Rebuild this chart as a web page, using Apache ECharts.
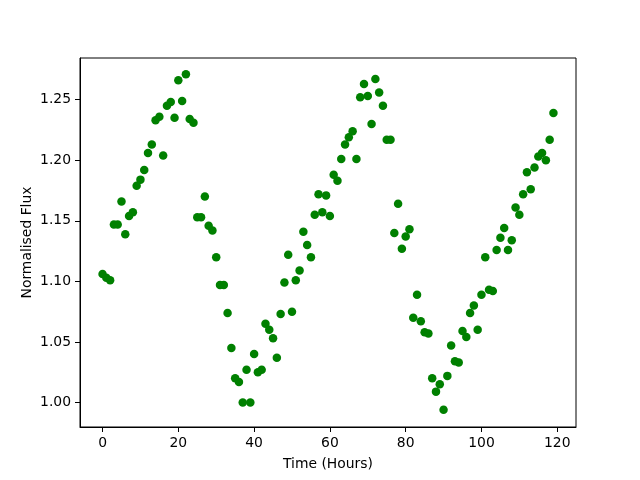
<!DOCTYPE html>
<html>
<head>
<meta charset="utf-8">
<script src="https://cdn.jsdelivr.net/npm/echarts@6/dist/echarts.min.js"></script>
<style>
  html, body { margin: 0; padding: 0; background: #fff; }
  #chart { width: 640px; height: 480px; }
</style>
</head>
<body>
<div id="chart"></div>
<script>
// hours 0..119
var hours = [];
for (var i = 0; i < 120; i++) hours.push(i);

var flux = [
  1.106, 1.103, 1.101, 1.147, 1.147, 1.166, 1.139, 1.154, 1.157, 1.179,
  1.184, 1.192, 1.206, 1.213, 1.233, 1.236, 1.204, 1.245, 1.248, 1.235,
  1.266, 1.249, 1.271, 1.234, 1.231, 1.153, 1.153, 1.170, 1.146, 1.142,
  1.120, 1.097, 1.097, 1.074, 1.045, 1.020, 1.017, 1.000, 1.027, 1.000,
  1.040, 1.025, 1.027, 1.065, 1.060, 1.053, 1.037, 1.073, 1.099, 1.122,
  1.075, 1.101, 1.109, 1.141, 1.130, 1.120, 1.155, 1.172, 1.157, 1.171,
  1.154, 1.188, 1.183, 1.201, 1.213, 1.219, 1.224, 1.201, 1.252, 1.263,
  1.253, 1.230, 1.267, 1.256, 1.245, 1.217, 1.217, 1.140, 1.164, 1.127,
  1.137, 1.143, 1.070, 1.089, 1.067, 1.058, 1.057, 1.020, 1.009, 1.015,
  0.994, 1.022, 1.047, 1.034, 1.033, 1.059, 1.054, 1.074, 1.080, 1.060,
  1.089, 1.120, 1.093, 1.092, 1.126, 1.136, 1.144, 1.126, 1.134, 1.161,
  1.155, 1.172, 1.190, 1.176, 1.194, 1.203, 1.206, 1.200, 1.217, 1.239
];

var xTicks = [0, 20, 40, 60, 80, 100, 120];
var yTicks = [1.00, 1.05, 1.10, 1.15, 1.20, 1.25];

var points = hours.map(function (h, i) { return [h, flux[i]]; });

var font = 'DejaVu Sans';
var chart = echarts.init(document.getElementById('chart'));
chart.setOption({
  animation: false,
  grid: {
    left: 80, right: 64, top: 58, bottom: 53,
    show: true, borderColor: '#000', borderWidth: 1, backgroundColor: 'transparent'
  },
  xAxis: {
    type: 'value',
    min: -5.95, max: 124.95,
    name: 'Time (Hours)',
    nameLocation: 'middle',
    nameGap: 30,
    nameMoveOverlap: false,
    nameTextStyle: { color: '#000', fontSize: 13.9, fontFamily: font },
    splitLine: { show: false },
    axisLine: { show: true, onZero: false, lineStyle: { color: '#000', width: 1 } },
    axisTick: { show: true, length: 5, lineStyle: { color: '#000' }, customValues: xTicks },
    axisLabel: { color: '#000', fontSize: 13.9, fontFamily: font, margin: 9, customValues: xTicks }
  },
  yAxis: {
    type: 'value',
    min: 0.9798, max: 1.2844,
    name: 'Normalised Flux',
    nameLocation: 'middle',
    nameGap: 46,
    nameMoveOverlap: false,
    nameTextStyle: { color: '#000', fontSize: 13.9, fontFamily: font },
    splitLine: { show: false },
    axisLine: { show: true, onZero: false, lineStyle: { color: '#000', width: 1 } },
    axisTick: { show: true, length: 5, lineStyle: { color: '#000' }, customValues: yTicks },
    axisLabel: {
      color: '#000', fontSize: 13.9, fontFamily: font, margin: 9, customValues: yTicks,
      formatter: function (v) { return v.toFixed(2); }
    }
  },
  series: [{
    type: 'scatter',
    data: points,
    symbol: 'circle',
    symbolSize: 8.5,
    itemStyle: { color: '#008000', opacity: 1 }
  }]
});
</script>
</body>
</html>
